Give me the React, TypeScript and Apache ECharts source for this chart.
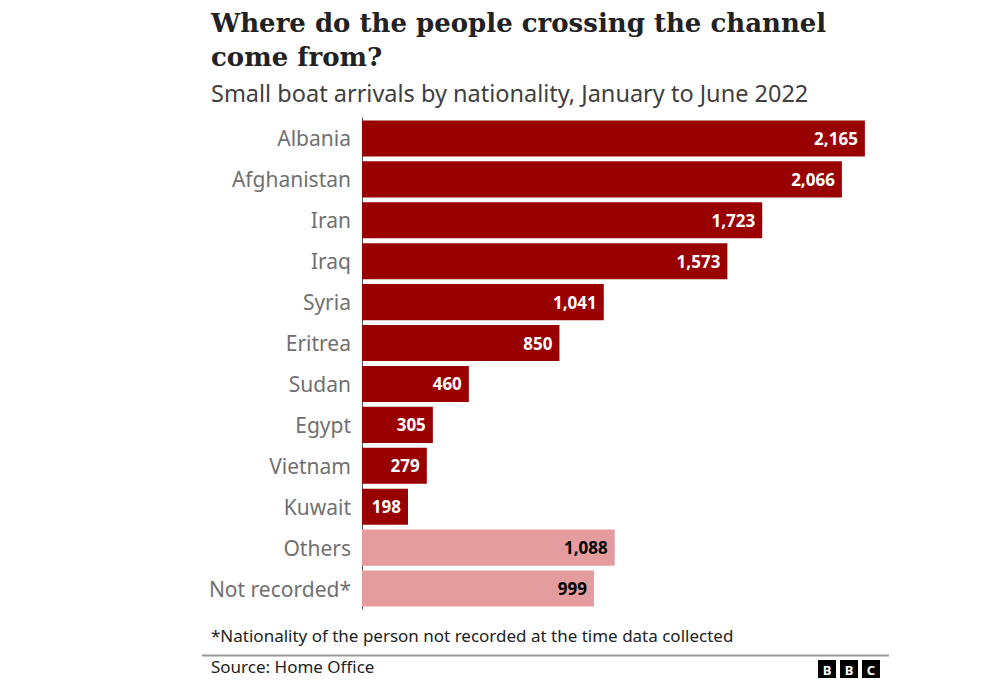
import React, { useEffect, useRef } from "react";
import * as echarts from "echarts";

const categories = [
  "Albania", "Afghanistan", "Iran", "Iraq", "Syria", "Eritrea",
  "Sudan", "Egypt", "Vietnam", "Kuwait", "Others", "Not recorded*",
];
const values = [2165, 2066, 1723, 1573, 1041, 850, 460, 305, 279, 198, 1088, 999];
const highlighted = [true, true, true, true, true, true, true, true, true, true, false, false];

const titleLine1 = "Where do the people crossing the channel";
const titleLine2 = "come from?";
const subtitle = "Small boat arrivals by nationality, January to June 2022";
const footnote = "*Nationality of the person not recorded at the time data collected";
const source = "Source: Home Office";

export default function App() {
  const ref = useRef<HTMLDivElement>(null);
  useEffect(() => {
    if (!ref.current) return;
    const chart = echarts.init(ref.current, null, { renderer: "svg" });
    const data = values.map((v, i) => ({
      value: v,
      itemStyle: { color: highlighted[i] ? "#990000" : "#e49c9f" },
      label: { color: highlighted[i] ? "#ffffff" : "#000000" },
    }));
    const sans = "'Noto Sans', 'Open Sans', sans-serif";
    const bbcBox = (x: number, letter: string) => ({
      type: "group",
      x, y: 660,
      children: [
        { type: "rect", shape: { x: 0, y: 0, width: 18, height: 18 }, style: { fill: "#000" } },
        { type: "text", x: 9, y: 9.5, style: { text: letter, fill: "#fff", font: "bold 13px 'Noto Sans', sans-serif", align: "center", verticalAlign: "middle" } },
      ],
    });
    chart.setOption({
      animation: false,
      backgroundColor: "#ffffff",
      grid: { left: 362, right: 127, top: 118, height: 491, containLabel: false },
      xAxis: {
        type: "value", min: 0, max: 2200, show: false,
      },
      yAxis: {
        type: "category",
        data: categories,
        inverse: true,
        axisLine: { show: true, lineStyle: { color: "#555555", width: 1 } },
        axisTick: { show: false },
        axisLabel: { color: "#707070", fontSize: 21, fontFamily: sans, margin: 11 },
      },
      series: [
        {
          type: "bar",
          data,
          barCategoryGap: "12%",
          label: {
            show: true,
            position: "insideRight",
            distance: 7,
            fontSize: 17,
            fontWeight: "bold",
            fontFamily: sans,
            formatter: (p: any) => p.value.toLocaleString("en-GB"),
          },
        },
      ],
      graphic: [
        { type: "text", x: 211, y: 10, style: { text: titleLine1, fill: "#222222", font: "bold 26px 'DejaVu Serif', serif" } },
        { type: "text", x: 211, y: 44, style: { text: titleLine2, fill: "#222222", font: "bold 26px 'DejaVu Serif', serif" } },
        { type: "text", x: 211, y: 81, style: { text: subtitle, fill: "#404040", font: "23.5px 'Noto Sans', sans-serif" } },
        { type: "text", x: 211, y: 627, style: { text: footnote, fill: "#222222", font: "17px 'Noto Sans', sans-serif" } },
        { type: "line", shape: { x1: 202, y1: 655.5, x2: 889, y2: 655.5 }, style: { stroke: "#999999", lineWidth: 2 } },
        { type: "text", x: 211, y: 658, style: { text: source, fill: "#222222", font: "17px 'Noto Sans', sans-serif" } },
        bbcBox(818, "B"),
        bbcBox(840, "B"),
        bbcBox(862, "C"),
      ],
    });
    return () => chart.dispose();
  }, []);
  return <div ref={ref} style={{ width: 1000, height: 692, position: "absolute", left: 0, top: 0 }} />;
}
